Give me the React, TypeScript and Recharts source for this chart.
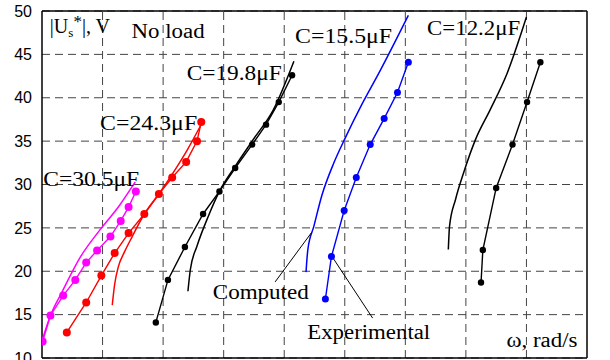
import React from "react";
import {
  LineChart,
  Line,
  XAxis,
  YAxis,
  CartesianGrid,
  ReferenceDot,
  ReferenceLine,
} from "recharts";

// omega axis has no printed labels, just 9 grid divisions
const xTicks = [0, 1, 2, 3, 4, 5, 6, 7, 8, 9];
const yTicks = [10, 15, 20, 25, 30, 35, 40, 45, 50];

// C = 30.5 uF
const c305ExpX = [0.01, 0.14, 0.35, 0.55, 0.73, 0.91, 1.13, 1.3, 1.43, 1.55];
const c305ExpY = [11.9, 14.9, 17.2, 19.0, 21.0, 22.4, 24.0, 25.8, 27.4, 29.2];
const c305CompX = [0.0, 0.14, 0.33, 0.63, 0.96, 1.27, 1.54];
const c305CompY = [12.0, 14.9, 17.6, 21.6, 24.8, 27.5, 30.3];

// C = 24.3 uF
const c243ExpX = [0.41, 0.73, 0.98, 1.2, 1.43, 1.69, 1.93, 2.15, 2.38, 2.56, 2.63];
const c243ExpY = [12.95, 16.4, 19.5, 22.1, 24.4, 26.6, 28.9, 30.8, 32.6, 35.0, 37.2];
const c243CompX = [1.16, 1.2, 1.26, 1.36, 1.46, 1.69, 1.93, 2.17, 2.4, 2.62];
const c243CompY = [16.1, 18.5, 20.5, 22.2, 23.6, 26.6, 28.9, 31.4, 34.0, 36.8];

// C = 19.8 uF
const c198ExpX = [1.88, 2.08, 2.36, 2.66, 2.93, 3.19, 3.47, 3.7, 3.91, 4.13];
const c198ExpY = [14.1, 19.0, 22.8, 26.6, 29.2, 31.9, 34.6, 36.9, 39.5, 42.6];
const c198CompX = [2.41, 2.45, 2.56, 2.75, 2.93, 3.19, 3.49, 3.82, 4.16];
const c198CompY = [17.7, 20.2, 22.9, 26.4, 29.2, 32.1, 35.2, 38.6, 44.2];

// C = 15.5 uF
const c155ExpX = [4.68, 4.78, 4.99, 5.19, 5.42, 5.65, 5.87, 6.05];
const c155ExpY = [16.8, 21.7, 27.0, 30.8, 34.6, 37.6, 40.6, 44.1];
const c155CompX = [4.36, 4.39, 4.49, 4.62, 4.82, 5.01, 5.28, 5.56, 6.05];
const c155CompY = [19.9, 22.5, 25.2, 28.7, 32.5, 35.4, 39.2, 42.8, 49.5];

// C = 12.2 uF
const c122ExpX = [7.25, 7.28, 7.5, 7.77, 8.01, 8.23];
const c122ExpY = [18.7, 22.45, 29.6, 34.6, 39.5, 44.1];
const c122CompX = [6.71, 6.73, 6.83, 6.96, 7.16, 7.4, 7.68, 8.0];
const c122CompY = [22.5, 25.2, 28.3, 31.3, 35.2, 38.6, 42.8, 49.3];

const zip = (xs: number[], ys: number[]) => xs.map((x, i) => ({ x, y: ys[i] }));

// text annotations: text, left x, baseline y, width in px
const labels: [string, number, number, number][] = [
  ["No load", 1.48, 46.86, 73],
  ["C=30.5\u03bcF", 0.02, 29.8, 96],
  ["C=24.3\u03bcF", 0.96, 36.24, 97],
  ["C=19.8\u03bcF", 2.39, 42.07, 95],
  ["C=15.5\u03bcF", 4.18, 46.28, 97],
  ["C=12.2\u03bcF", 6.36, 47.24, 93],
  ["Computed", 2.82, 16.78, 96],
  ["Experimental", 4.38, 12.18, 123],
  ["\u03c9, rad/s", 7.67, 11.23, 71],
];

const computedLeader = [
  { x: 3.85, y: 18.77 },
  { x: 4.45, y: 24.45 },
];
const experimentalLeader = [
  { x: 4.79, y: 21.69 },
  { x: 5.46, y: 14.6 },
];

const serif = "'Liberation Serif', 'Times New Roman', serif";

function TextMark(text: string, width: number) {
  return (props: any) => (
    <text
      x={props.cx}
      y={props.cy}
      fontFamily={serif}
      fontSize={20}
      fill="#000"
      textLength={width}
      lengthAdjust="spacingAndGlyphs"
    >
      {text}
    </text>
  );
}

function AxisTitle(props: any) {
  return (
    <text x={props.cx} y={props.cy} fontFamily={serif} fontSize={20} fill="#000">
      <tspan>|U</tspan>
      <tspan fontSize={13} dy={4}>
        s
      </tspan>
      <tspan fontSize={17} dy={-10}>
        *
      </tspan>
      <tspan dy={6}>|, V</tspan>
    </text>
  );
}

const series = [
  { id: "c305", color: "#ff00ff", exp: zip(c305ExpX, c305ExpY), comp: zip(c305CompX, c305CompY), r: 4 },
  { id: "c243", color: "#ff0000", exp: zip(c243ExpX, c243ExpY), comp: zip(c243CompX, c243CompY), r: 4 },
  { id: "c198", color: "#000000", exp: zip(c198ExpX, c198ExpY), comp: zip(c198CompX, c198CompY), r: 3.2 },
  { id: "c155", color: "#0000ff", exp: zip(c155ExpX, c155ExpY), comp: zip(c155CompX, c155CompY), r: 3.5 },
  { id: "c122", color: "#000000", exp: zip(c122ExpX, c122ExpY), comp: zip(c122CompX, c122CompY), r: 3.2 },
];

export default function App() {
  return (
    <div style={{ position: "absolute", left: 0, top: 0, background: "#fff" }}>
      <LineChart width={610} height={360} margin={{ top: 11, right: 23, bottom: 2, left: 0 }}>
        <CartesianGrid stroke="#444" strokeDasharray="8 5" strokeWidth={1} vertical={false} />
        <XAxis
          dataKey="x"
          type="number"
          domain={[0, 9]}
          ticks={xTicks}
          hide
          allowDataOverflow
        />
        <YAxis
          type="number"
          domain={[10, 50]}
          ticks={yTicks}
          interval={0}
          width={42}
          tickLine={false}
          axisLine={false}
          tickMargin={4}
          allowDataOverflow
          tick={{ fontSize: 16, fill: "#000", fontFamily: "'Liberation Sans', Arial, sans-serif" }}
        />
        {xTicks.slice(1, -1).map((t) => (
          <ReferenceLine key={"v" + t} x={t} stroke="#444" strokeDasharray="8 5" strokeWidth={1} />
        ))}
        <ReferenceLine x={xTicks[0]} stroke="#000" strokeWidth={1.5} />
        <ReferenceLine x={xTicks[xTicks.length - 1]} stroke="#000" strokeWidth={1.5} />
        <ReferenceLine y={yTicks[0]} stroke="#000" strokeWidth={1.5} />
        <ReferenceLine y={yTicks[yTicks.length - 1]} stroke="#000" strokeWidth={1.5} />
        {series.map((s) => (
          <Line
            key={s.id + "c"}
            data={s.comp}
            dataKey="y"
            type="monotone"
            stroke={s.color}
            strokeWidth={1.5}
            dot={false}
            isAnimationActive={false}
          />
        ))}
        {series.map((s) => (
          <Line
            key={s.id + "e"}
            data={s.exp}
            dataKey="y"
            type="linear"
            stroke={s.color}
            strokeWidth={1.4}
            dot={{ r: s.r, fill: s.color, stroke: s.color, strokeWidth: 0 }}
            isAnimationActive={false}
          />
        ))}
        <ReferenceLine segment={computedLeader} stroke="#000" strokeWidth={1} />
        <ReferenceLine segment={experimentalLeader} stroke="#000" strokeWidth={1} />
        <ReferenceDot x={0.13} y={47.44} r={0} shape={AxisTitle} />
        {labels.map(([t, x, y, w]) => (
          <ReferenceDot key={t} x={x} y={y} r={0} shape={TextMark(t, w)} />
        ))}
      </LineChart>
    </div>
  );
}
